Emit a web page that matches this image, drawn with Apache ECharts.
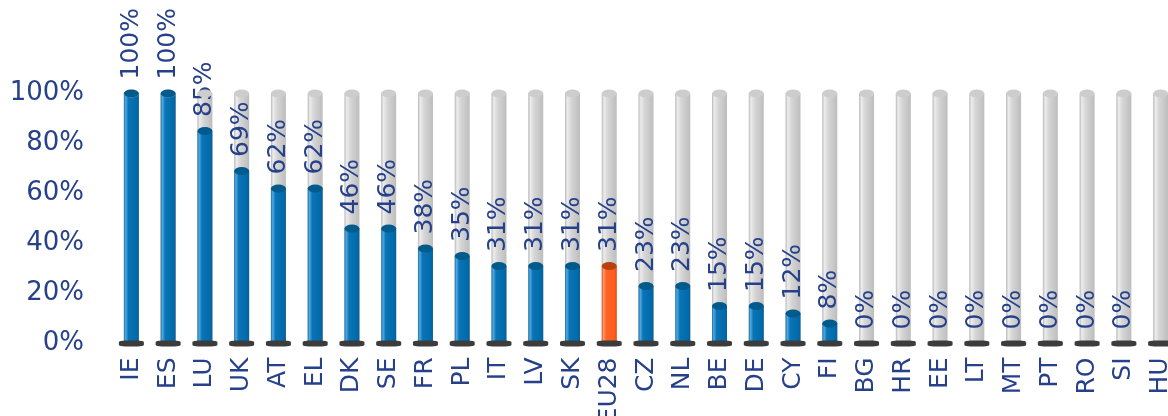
<!DOCTYPE html>
<html><head><meta charset="utf-8">
<script src="https://cdn.jsdelivr.net/npm/echarts@6/dist/echarts.min.js"></script>
<style>html,body{margin:0;padding:0;overflow:hidden;background:#fff}#c{width:1179px;height:416px}</style>
</head><body><div id="c"></div>
<script>
const categories = ['IE','ES','LU','UK','AT','EL','DK','SE','FR','PL','IT','LV','SK','EU28','CZ','NL','BE','DE','CY','FI','BG','HR','EE','LT','MT','PT','RO','SI','HU'];
const values = [100,100,85,69,62,62,46,46,38,35,31,31,31,31,23,23,15,15,12,8,0,0,0,0,0,0,0,0,null];
const highlightCategory = 'EU28';
const yTicks = [0,20,40,60,80,100];

const navy = '#26418a';
const font = 'DejaVu Sans';
const blueGrad = {type:'linear',x:0,y:0,x2:1,y2:0,colorStops:[
  {offset:0,color:'#1f6fa8'},{offset:0.12,color:'#4fa9e0'},{offset:0.3,color:'#0b74b6'},{offset:0.85,color:'#006aab'},{offset:1,color:'#0a5e94'}]};
const orangeGrad = {type:'linear',x:0,y:0,x2:1,y2:0,colorStops:[
  {offset:0,color:'#d9501a'},{offset:0.12,color:'#ff9a6a'},{offset:0.3,color:'#ff6428'},{offset:0.85,color:'#fb5a1e'},{offset:1,color:'#e04c14'}]};
const grayGrad = {type:'linear',x:0,y:0,x2:1,y2:0,colorStops:[
  {offset:0,color:'#b8b8b8'},{offset:0.15,color:'#ececec'},{offset:0.4,color:'#d6d6d6'},{offset:1,color:'#bdbdbd'}]};

const valueData = values.map((v,i)=>({value:v, itemStyle:{color: categories[i]===highlightCategory?orangeGrad:blueGrad}}));
const capData = values.map((v,i)=>({value:(v===null||v===0)?null:v, itemStyle:{color: categories[i]===highlightCategory?'#b8400e':'#005a8c'}}));

const chart = echarts.init(document.getElementById('c'));
chart.setOption({
  animation:false,
  grid:{left:113,right:0,top:93.5,bottom:72.5,outerBoundsMode:'none',containLabel:false},
  xAxis:{type:'category',data:categories,
    axisLine:{show:false},axisTick:{show:false},
    axisLabel:{rotate:90,margin:14,fontSize:25,color:navy,fontFamily:font,interval:0}},
  yAxis:{type:'value',min:yTicks[0],max:yTicks[yTicks.length-1],interval:20,
    splitLine:{show:false},axisLine:{show:false},axisTick:{show:false},
    axisLabel:{formatter:'{value}%',fontSize:26,color:navy,fontFamily:font,margin:29}},
  series:[
    {type:'bar',data:categories.map(()=>100),barWidth:15,barGap:'-100%',z:1,
      itemStyle:{color:grayGrad},silent:true},
    {type:'bar',data:valueData,barWidth:15,barGap:'-100%',z:2,
      label:{show:true,position:'top',rotate:90,align:'left',verticalAlign:'middle',distance:14,
        formatter:p=>p.value===null?'':p.value+'%',fontSize:25,color:navy,fontFamily:font}},
    {type:'pictorialBar',data:categories.map(()=>100),symbol:'circle',symbolSize:[15,8],
      symbolPosition:'end',symbolOffset:[0,'-50%'],barGap:'-100%',z:3,itemStyle:{color:'#cdcdcd'}},
    {type:'pictorialBar',data:capData,symbol:'circle',symbolSize:[15,8],
      symbolPosition:'end',symbolOffset:[0,'-50%'],barGap:'-100%',z:4},
    {type:'scatter',data:categories.map(()=>0),symbol:'roundRect',symbolSize:[25,6],z:5,
      itemStyle:{color:'#3c3c3c',opacity:1}}
  ]
});
</script></body></html>
